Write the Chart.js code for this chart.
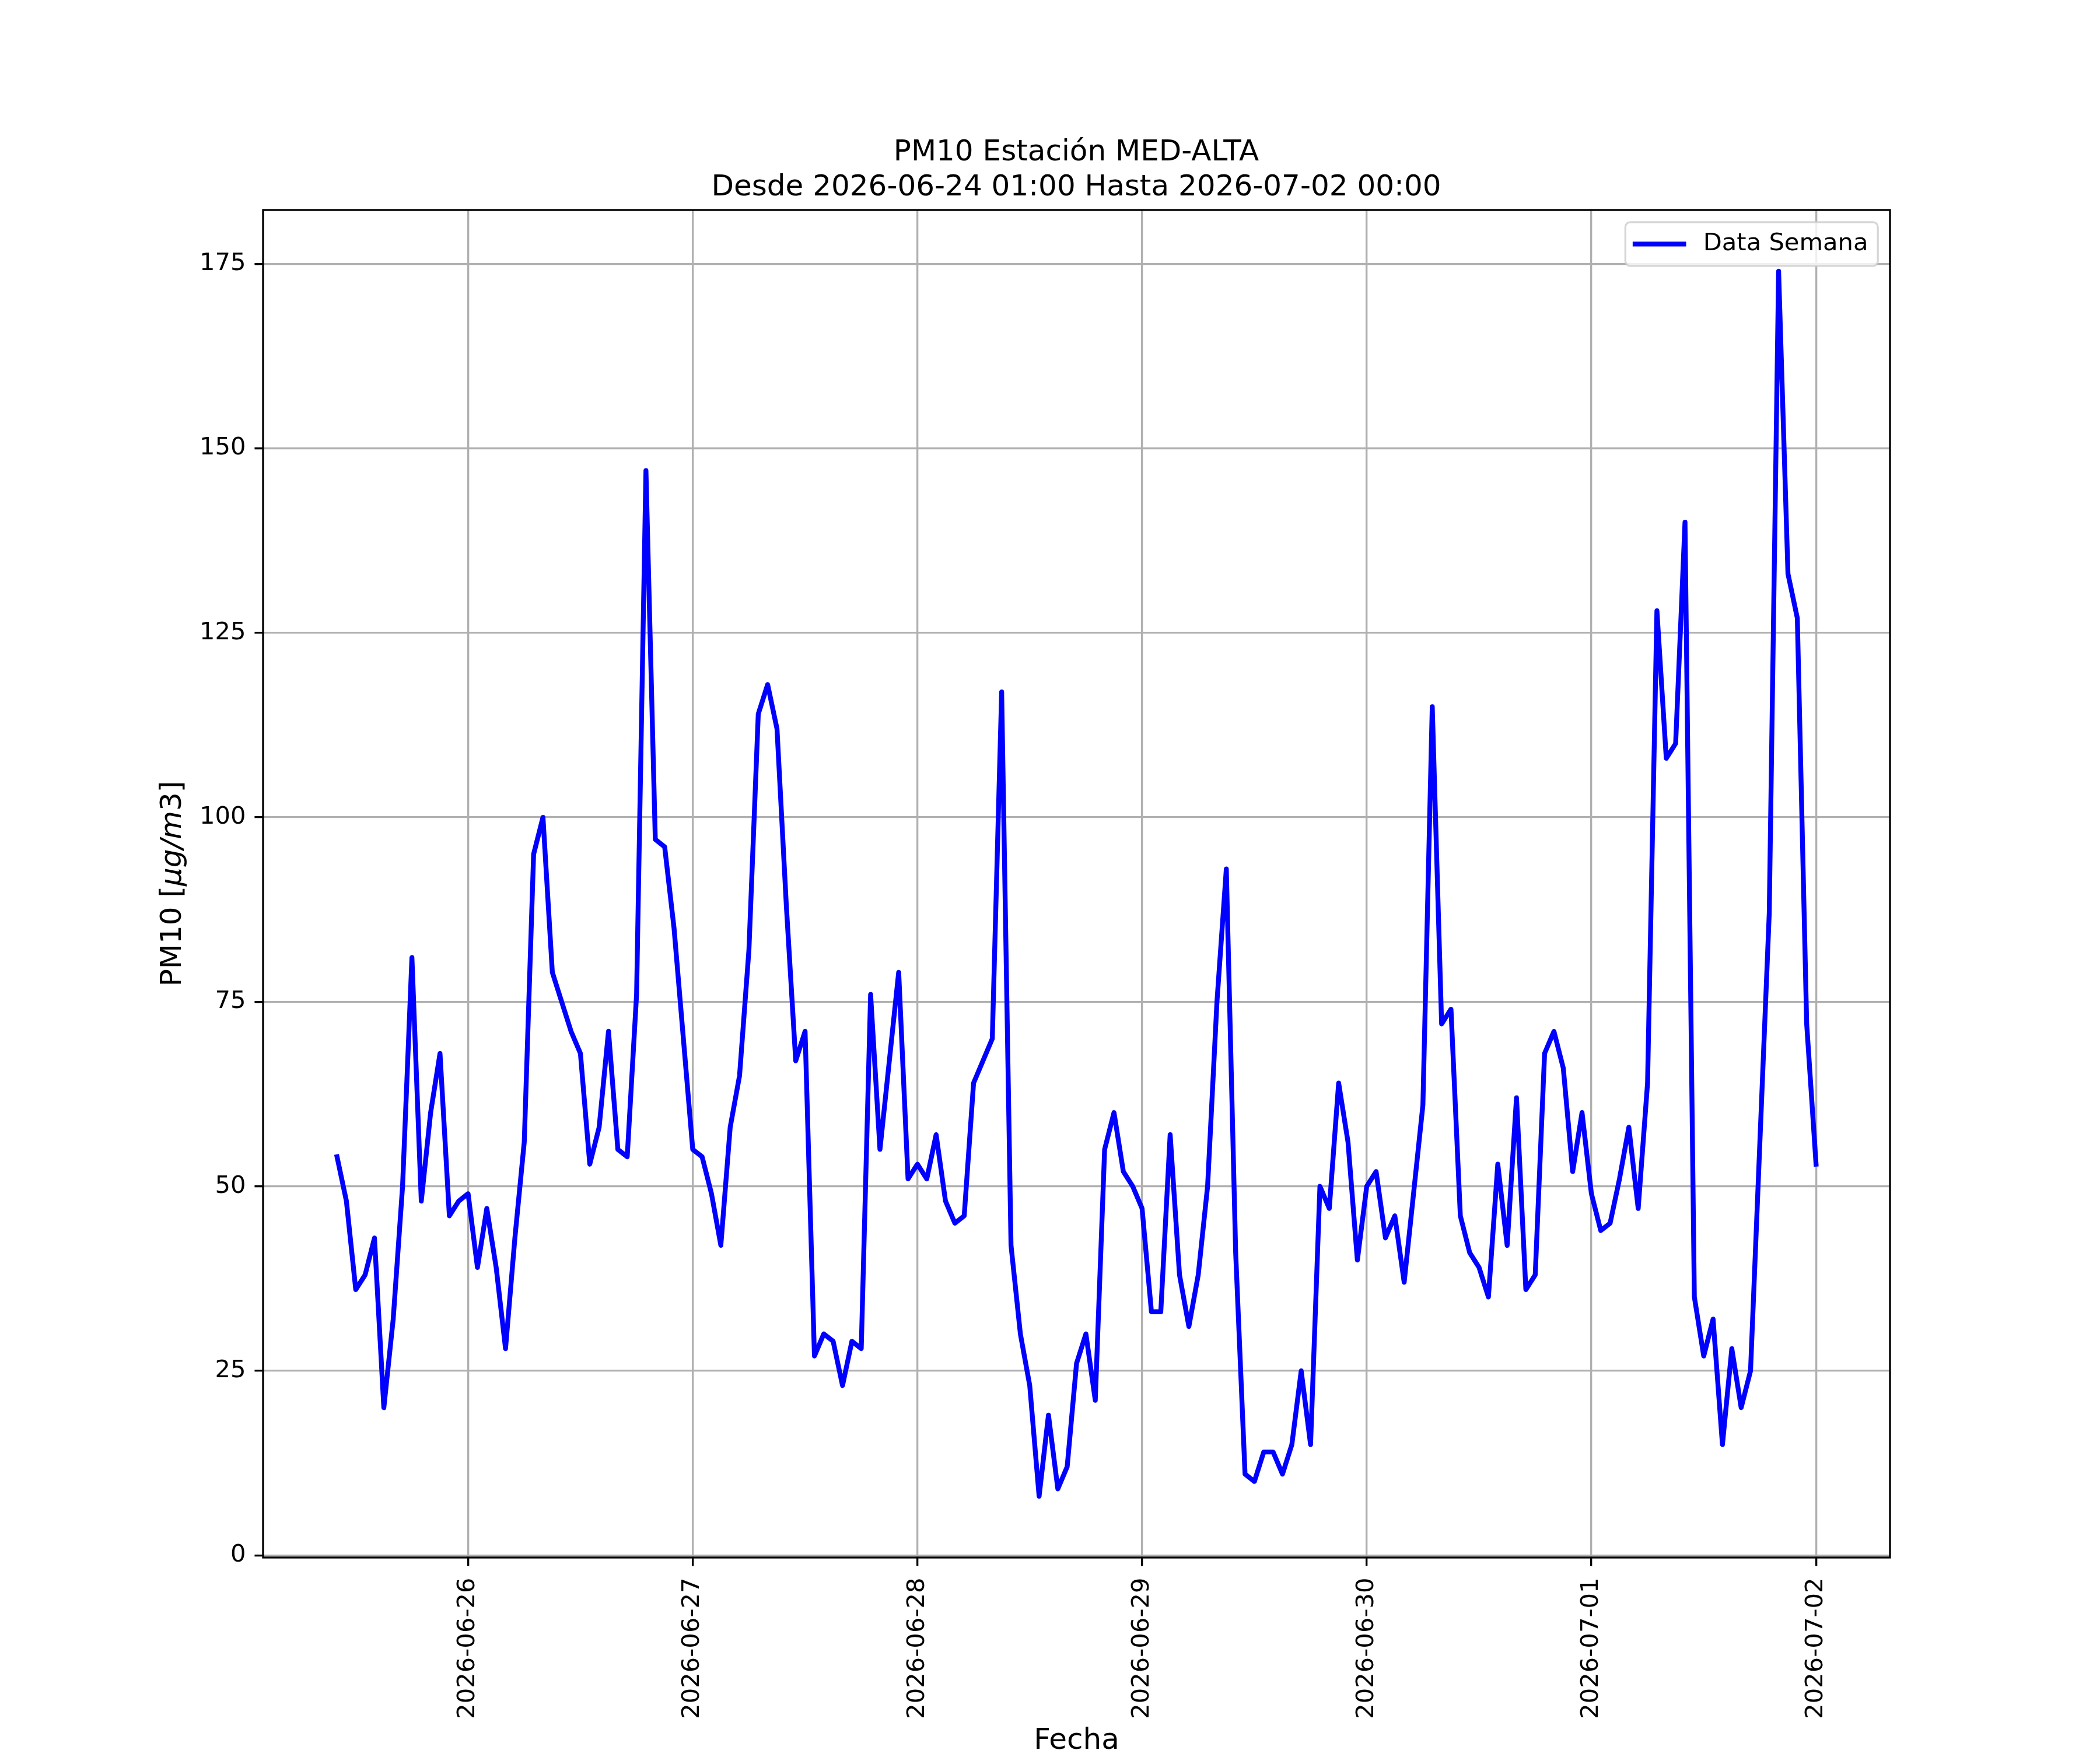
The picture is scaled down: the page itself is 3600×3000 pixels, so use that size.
<!DOCTYPE html>
<html>
<head>
<meta charset="utf-8">
<title>PM10 MED-ALTA</title>
<script src="https://cdn.jsdelivr.net/npm/chart.js@4/dist/chart.umd.min.js"></script>
<style>
    html, body { margin: 0; padding: 0; background: #fff; }
    canvas { display: block; }
</style>
</head>
<body>
<canvas id="grafico" width="3600" height="3000" style="width:3600px;height:3000px"></canvas>
<script>
// horas contadas desde 2026-06-25 00:00, un dato por hora
const horaInicio = 10; // primer dato: 2026-06-25 10:00

// PM10 [ug/m3] por dia
const dia25 = [54, 48, 36, 38, 43, 20, 32, 50, 81, 48, 60, 68, 46, 48]; // 10:00 - 23:00
const dia26 = [49, 39, 47, 39, 28, 43, 56, 95, 100, 79, 75, 71, 68, 53, 58, 71, 55, 54, 76, 147, 97, 96, 85, 70];
const dia27 = [55, 54, 49, 42, 58, 65, 82, 114, 118, 112, 88, 67, 71, 27, 30, 29, 23, 29, 28, 76, 55, 67, 79, 51];
const dia28 = [53, 51, 57, 48, 45, 46, 64, 67, 70, 117, 42, 30, 23, 8, 19, 9, 12, 26, 30, 21, 55, 60, 52, 50];
const dia29 = [47, 33, 33, 57, 38, 31, 38, 50, 75, 93, 41, 11, 10, 14, 14, 11, 15, 25, 15, 50, 47, 64, 56, 40];
const dia30 = [50, 52, 43, 46, 37, 49, 61, 115, 72, 74, 46, 41, 39, 35, 53, 42, 62, 36, 38, 68, 71, 66, 52, 60];
const dia01 = [49, 44, 45, 51, 58, 47, 64, 128, 108, 110, 140, 35, 27, 32, 15, 28, 20, 25, 56, 87, 174, 133, 127, 72];
const dia02 = [53]; // 00:00

const diasEje = ["2026-06-26", "2026-06-27", "2026-06-28", "2026-06-29", "2026-06-30", "2026-07-01", "2026-07-02"];
const ticksY = [0, 25, 50, 75, 100, 125, 150, 175];

const titulo = ["PM10 Estación MED-ALTA", "Desde 2026-06-24 01:00 Hasta 2026-07-02 00:00"];
const nombreSerie = "Data Semana";
const tituloX = "Fecha";

document.addEventListener("DOMContentLoaded", function () {
    const PT = 300 / 72; // figura a 300 dpi
    const FUENTE = '"DejaVu Sans"';
    Chart.defaults.font.family = FUENTE;
    Chart.defaults.color = "#000";

    const pm10 = [].concat(dia25, dia26, dia27, dia28, dia29, dia30, dia01, dia02);
    const puntos = pm10.map((v, i) => ({ x: horaInicio + i, y: v }));

    // margenes del 5% como matplotlib
    const x0 = horaInicio, x1 = horaInicio + pm10.length - 1;
    const y0 = Math.min(...pm10), y1 = Math.max(...pm10);
    const mx = 0.05 * (x1 - x0), my = 0.05 * (y1 - y0);

    const fondo = {
        id: "fondo",
        beforeDraw(chart) {
            const ctx = chart.ctx;
            ctx.save();
            ctx.fillStyle = "#fff";
            ctx.fillRect(0, 0, chart.width, chart.height);
            ctx.restore();
        }
    };

    // marco completo del area de datos
    const marco = {
        id: "marco",
        afterDatasetsDraw(chart) {
            const { ctx, chartArea: a } = chart;
            ctx.save();
            ctx.strokeStyle = "#000";
            ctx.lineWidth = 0.8 * PT;
            ctx.strokeRect(a.left, a.top, a.right - a.left, a.bottom - a.top);
            ctx.restore();
        }
    };

    // etiqueta del eje Y con la parte en cursiva
    const etiquetaY = {
        id: "etiquetaY",
        afterDraw(chart) {
            const { ctx, chartArea: a } = chart;
            const fs = 12 * PT;
            const partes = [["PM10 [", "normal"], ["μg/m", "italic"], ["3", "normal"], ["]", "normal"]];
            ctx.save();
            let total = 0;
            const anchos = partes.map(([t, s]) => {
                ctx.font = s + " " + fs + "px " + FUENTE;
                const w = ctx.measureText(t).width;
                total += w;
                return w;
            });
            ctx.translate(a.left - 154, (a.top + a.bottom) / 2);
            ctx.rotate(-Math.PI / 2);
            ctx.textBaseline = "middle";
            ctx.textAlign = "left";
            ctx.fillStyle = "#000";
            let x = -total / 2;
            partes.forEach(([t, s], i) => {
                ctx.font = s + " " + fs + "px " + FUENTE;
                ctx.fillText(t, x, 0);
                x += anchos[i];
            });
            ctx.restore();
        }
    };

    // leyenda dentro del grafico, arriba a la derecha
    const leyenda = {
        id: "leyenda",
        afterDraw(chart) {
            const { ctx, chartArea: a } = chart;
            const ds = chart.data.datasets[0];
            const fs = 10 * PT;
            ctx.save();
            ctx.font = fs + "px " + FUENTE;
            const tw = ctx.measureText(ds.label).width;
            const w = 0.4 * fs + 2 * fs + 0.8 * fs + tw + 0.4 * fs;
            const h = 0.8 * fs + fs;
            const right = a.right - 0.5 * fs;
            const top = a.top + 0.5 * fs;
            const left = right - w;

            ctx.beginPath();
            ctx.roundRect(left, top, w, h, 0.2 * fs);
            ctx.fillStyle = "rgba(255,255,255,0.8)";
            ctx.fill();
            ctx.lineWidth = 0.8 * PT;
            ctx.strokeStyle = "rgba(204,204,204,0.8)";
            ctx.stroke();

            const cy = top + h / 2;
            const lx = left + 0.4 * fs;
            ctx.beginPath();
            ctx.moveTo(lx, cy);
            ctx.lineTo(lx + 2 * fs, cy);
            ctx.strokeStyle = ds.borderColor;
            ctx.lineWidth = ds.borderWidth;
            ctx.lineCap = "square";
            ctx.stroke();

            ctx.fillStyle = "#000";
            ctx.textBaseline = "middle";
            ctx.textAlign = "left";
            ctx.fillText(ds.label, lx + 2.8 * fs, cy);
            ctx.restore();
        }
    };

    new Chart(document.getElementById("grafico"), {
        type: "line",
        data: {
            datasets: [{
                label: nombreSerie,
                data: puntos,
                borderColor: "#0000ff",
                borderWidth: 2 * PT,
                pointRadius: 0,
                tension: 0,
                fill: false,
                borderJoinStyle: "round",
                borderCapStyle: "square"
            }]
        },
        options: {
            responsive: false,
            devicePixelRatio: 1,
            animation: false,
            events: [],
            layout: { padding: { left: 90, right: 0, top: 0, bottom: 0 } },
            scales: {
                x: {
                    type: "linear",
                    bounds: "data",
                    min: x0 - mx,
                    max: x1 + mx,
                    afterBuildTicks: (s) => { s.ticks = diasEje.map((d, k) => ({ value: 24 * (k + 1) })); },
                    afterFit: (s) => { s.height = 330; },
                    ticks: {
                        autoSkip: false,
                        minRotation: 90,
                        maxRotation: 90,
                        padding: 20,
                        color: "#000",
                        font: { size: 10 * PT },
                        callback: (v, i) => diasEje[i]
                    },
                    grid: { color: "#b0b0b0", lineWidth: 0.8 * PT, tickColor: "#000", tickWidth: 0.8 * PT, tickLength: 3.5 * PT },
                    border: { display: false },
                    title: { display: true, text: tituloX, color: "#000", font: { size: 12 * PT, lineHeight: 0.6 }, padding: { top: 0, bottom: 0 } }
                },
                y: {
                    type: "linear",
                    position: "left",
                    bounds: "data",
                    min: y0 - my,
                    max: y1 + my,
                    afterBuildTicks: (s) => { s.ticks = ticksY.map((v) => ({ value: v })); },
                    afterFit: (s) => { s.width = 361; },
                    ticks: {
                        padding: 15,
                        color: "#000",
                        font: { size: 10 * PT },
                        callback: (v) => String(v)
                    },
                    grid: { color: "#b0b0b0", lineWidth: 0.8 * PT, tickColor: "#000", tickWidth: 0.8 * PT, tickLength: 3.5 * PT },
                    border: { display: false }
                },
                // eje vacio a la derecha solo para reservar el margen
                yDer: {
                    type: "linear",
                    position: "right",
                    afterFit: (s) => { s.width = 360; },
                    ticks: { display: false },
                    grid: { display: false, drawTicks: false },
                    border: { display: false }
                }
            },
            plugins: {
                legend: { display: false },
                tooltip: { enabled: false },
                title: {
                    display: true,
                    text: titulo,
                    color: "#000",
                    font: { size: 12 * PT, weight: "normal", lineHeight: 1.2 },
                    padding: { top: 232, bottom: 8 }
                }
            }
        },
        plugins: [fondo, marco, etiquetaY, leyenda]
    });
});
</script>
</body>
</html>
